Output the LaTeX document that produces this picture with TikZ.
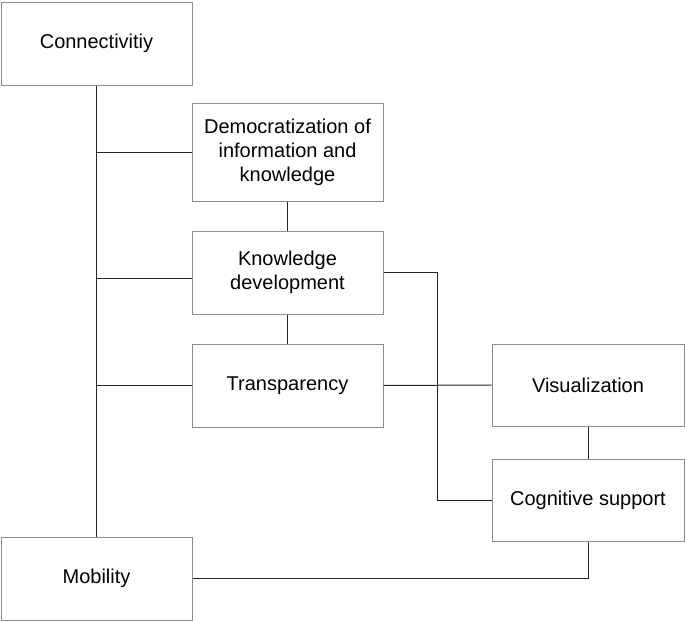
\documentclass[tikz,border=0pt]{standalone}
\usepackage{fontspec}
\setmainfont{Liberation Sans}

\tikzset{
    box/.style={draw=black!45, line width=1pt, minimum width=191pt, minimum height=83pt,
        inner sep=0pt, align=center, font=\fontsize{20pt}{24pt}\selectfont},
    link/.style={draw=black!85, line width=1pt}
}

\begin{document}
\begin{tikzpicture}[x=1pt,y=-1pt]
        \useasboundingbox (0,0) rectangle (685,621);

        \node[box] (conn) at (96.5,43.5) {Connectivitiy};
        \node[box, minimum height=98pt] (demo) at (287.5,152) {Democratization of\\information and\\knowledge};
        \node[box] (know) at (287.5,272.5) {Knowledge\\development};
        \node[box] (trans) at (287.5,385.5) {Transparency};
        \node[box, minimum width=192pt, minimum height=82pt] (vis) at (588,385) {Visualization};
        \node[box, minimum width=192pt, minimum height=82pt] (cog) at (588,500) {Cognitive support};
        \node[box] (mob) at (96.5,578.5) {Mobility};

        % spine and branches
        \draw [link] (conn.south) -- (mob.north);
        \draw [link] (conn.south |- demo.west) -- (demo.west);
        \draw [link] (conn.south |- know.west) ++(0,6) -- ([yshift=-6pt]know.west);
        \draw [link] (conn.south |- trans.west) -- (trans.west);

        \draw [link] (demo.south) -- (know.north);
        \draw [link] (know.south) -- (trans.north);
        \draw [link] (trans.east) -- (vis.west);
        \draw [link] (vis.south) -- (cog.north);
        \draw [link] (know.east) -- ++(54,0) |- (cog.west);
        \draw [link] (mob.east) -| (cog.south);

\end{tikzpicture}
\end{document}
